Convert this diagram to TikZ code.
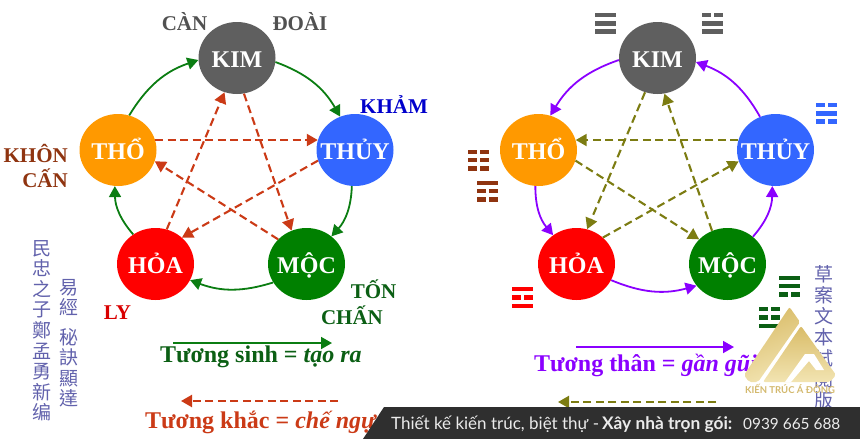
\documentclass[tikz,border=0pt]{standalone}
\usepackage{fontspec}
\setmainfont{Liberation Serif}
\newfontfamily\cjkf{Noto Sans CJK TC}
\newfontfamily\barf{Lato}
\usetikzlibrary{shapes.geometric,arrows.meta,calc}
\definecolor{cgreen}{HTML}{0B7D12}
\definecolor{dgreen}{HTML}{0B5F14}
\definecolor{cred}{HTML}{CB3A16}
\definecolor{cpurple}{HTML}{8A00FF}
\definecolor{colive}{HTML}{7C7C12}
\definecolor{kimc}{HTML}{5F5F5F}
\definecolor{thoc}{HTML}{FF9900}
\definecolor{thuyc}{HTML}{3366FF}
\definecolor{hoac}{HTML}{FF0000}
\definecolor{mocc}{HTML}{008000}
\definecolor{brownc}{HTML}{8F3410}
\definecolor{cjkc}{HTML}{6262AC}
\definecolor{barc}{HTML}{2F2F2F}
\definecolor{golda}{HTML}{D9BC68}
\definecolor{goldb}{HTML}{F2E4B2}
\definecolor{goldt}{HTML}{D3B96E}
\newcommand{\elname}[1]{\makebox[0pt]{#1}}
\tikzset{
  element/.style={ellipse,minimum width=77pt,minimum height=72pt,inner sep=0pt,text=white,text height=18pt,text depth=0pt,font=\bfseries\fontsize{24}{24}\selectfont},
  sinh/.style={-{Triangle[length=11pt,width=12pt]},draw=cgreen,line width=1.8pt},
  than/.style={-{Triangle[length=11pt,width=12pt]},draw=cpurple,line width=1.8pt},
  khac/.style={-{Triangle[length=11pt,width=12pt]},draw=cred,line width=2.1pt,dash pattern=on 8pt off 4.5pt},
  ghet/.style={-{Triangle[length=11pt,width=12pt]},draw=colive,line width=2.1pt,dash pattern=on 8pt off 4.5pt},
  trilabel/.style={font=\bfseries\fontsize{21}{21}\selectfont,inner sep=0pt},
  legend/.style={font=\bfseries\fontsize{24}{24}\selectfont,inner sep=0pt,anchor=west},
  cjkcol/.style={font=\cjkf\fontsize{19}{20.6}\selectfont,text=cjkc,align=center,inner sep=0pt,anchor=north},
}
% \trigrambar{left x}{y}{colour}{1 solid / 0 broken}
\newcommand{\trigrambar}[4]{%
  \ifnum#4=1
    \fill[#3] (#1,#2-2.2) rectangle ++(20.5,4.4);
  \else
    \fill[#3] (#1,#2-2.2) rectangle ++(8.5,4.4);
    \fill[#3] (#1+12,#2-2.2) rectangle ++(8.5,4.4);
  \fi}
\newcommand{\trigramsym}[6]{%
  \trigrambar{#1}{#2-8.3}{#3}{#4}\trigrambar{#1}{#2}{#3}{#5}\trigrambar{#1}{#2+8.3}{#3}{#6}}
\begin{document}
\begin{tikzpicture}[x=1pt,y=-1pt]
\useasboundingbox (0,0) rectangle (860,439);
\clip (0,0) rectangle (860,439);
% left wheel
\node[element,fill=kimc] (kimA) at (237,58) {\elname{KIM}};
\node[element,fill=thoc] (thoA) at (118,150) {\elname{THỔ}};
\node[element,fill=thuyc] (thuyA) at (355,150) {\elname{THỦY}};
\node[element,fill=hoac] (hoaA) at (155.5,264) {\elname{HỎA}};
\node[element,fill=mocc] (mocA) at (306.5,264) {\elname{MỘC}};
\draw[sinh] (thoA.72) to[bend left=20] (kimA.183);
\draw[sinh] (kimA.-6) to[bend left=20] (thuyA.114);
\draw[sinh] (thuyA.265) to[bend left=20] (mocA.48);
\draw[sinh] (mocA.209) to[bend left=19] (hoaA.-25);
\draw[sinh] (hoaA.127) to[bend left=20] (thoA.265);
\draw[khac] (thoA.15) -- (thuyA.165);
\draw[khac] (hoaA.72) -- (kimA.250);
\draw[khac] (kimA.281) -- (mocA.114);
\draw[khac] (mocA.139) -- (thoA.-17);
\draw[khac] (thuyA.196) -- (hoaA.45);
% right wheel
\node[element,fill=kimc] (kimB) at (657.5,58) {\elname{KIM}};
\node[element,fill=thoc] (thoB) at (538.5,150) {\elname{THỔ}};
\node[element,fill=thuyc] (thuyB) at (775.5,150) {\elname{THỦY}};
\node[element,fill=hoac] (hoaB) at (576.5,264) {\elname{HỎA}};
\node[element,fill=mocc] (mocB) at (727.5,264) {\elname{MỘC}};
\draw[than] (kimB.183) to[bend right=20] (thoB.71);
\draw[than] (thuyB.115) to[bend right=20] (kimB.-6);
\draw[than] (thoB.265) to[bend right=20] (hoaB.129);
\draw[than] (hoaB.-25) to[bend right=19] (mocB.215);
\draw[than] (mocB.47) to[bend right=20] (thuyB.265);
\draw[ghet] (thuyB.165) -- (thoB.15);
\draw[ghet] (kimB.250) -- (hoaB.73);
\draw[ghet] (mocB.115) -- (kimB.281);
\draw[ghet] (thoB.-16) -- (mocB.139);
\draw[ghet] (hoaB.45) -- (thuyB.197);
% labels
\node[trilabel,text=kimc!85!black] (can) at (184.5,22) {CÀN};
\node[trilabel,text=kimc!85!black] (doai) at (300,22) {ĐOÀI};
\node[trilabel,text=blue!80!black] (kham) at (394,105) {KHẢM};
\node[trilabel,text=brownc,anchor=east] (khon) at (68,153) {KHÔN};
\node[trilabel,text=brownc,anchor=east] (cann) at (68,178) {CẤN};
\node[trilabel,text=hoac!85!black] (ly) at (117.5,313) {LY};
\node[trilabel,text=dgreen] (ton) at (373.5,289) {TỐN};
\node[trilabel,text=dgreen] (chan) at (352,315) {CHẤN};
% trigrams
\trigramsym{595}{23.3}{kimc}{1}{1}{1}
\trigramsym{702}{23.3}{kimc}{0}{1}{1}
\trigramsym{816}{113.3}{thuyc}{0}{1}{0}
\trigramsym{468}{160}{brownc}{0}{0}{0}
\trigramsym{477}{191}{brownc}{1}{0}{0}
\trigramsym{512}{297.5}{hoac}{1}{0}{1}
\trigramsym{779}{286}{dgreen}{1}{1}{0}
\trigramsym{759}{317.5}{dgreen}{0}{0}{1}
% legends
\coordinate (l1a) at (173,343); \coordinate (l1b) at (332,343);
\draw[sinh] (l1a) -- (l1b);
\node[legend,text=dgreen] (t1) at (160,357) {Tương sinh = \textit{tạo ra}};
\coordinate (l2a) at (338,401); \coordinate (l2b) at (181,401);
\draw[khac] (l2a) -- (l2b);
\node[legend,text=cred] (t2) at (145,422) {Tương khắc = \textit{chế ngự}};
\coordinate (l3a) at (576,347); \coordinate (l3b) at (734,347);
\draw[than] (l3a) -- (l3b);
\node[legend,text=cpurple] (t3) at (534,365) {Tương thân = \textit{gần gũi}};
\coordinate (l4a) at (716,402); \coordinate (l4b) at (558,402);
\draw[ghet] (l4a) -- (l4b);
\node[legend,text=colive!60!black] (t4) at (557,422) {Tương};
% CJK columns
\node[cjkcol] (c1) at (42,240) {民\\忠\\之\\子\\鄭\\孟\\勇\\新\\编};
\node[cjkcol] (c2) at (69,279) {易\\經};
\node[cjkcol] (c3) at (69,328) {秘\\訣\\顯\\達};
\node[cjkcol,font=\cjkf\fontsize{19}{21}\selectfont] (c4) at (824,265) {草\\案\\文\\本\\試\\閱\\版};
% logo
\shade[left color=golda,right color=goldb,shading angle=20,rounded corners=2pt]
  (789.5,307) -- (800,322) -- (758,382) -- (749,382) -- (744,375) -- cycle;
\shade[top color=golda,bottom color=goldb,rounded corners=2pt]
  (801,326) -- (836,375) -- (830,382) -- (763,382) -- cycle;
\fill[white] (785,382) -- (805,354) -- (814,354) -- (824,370) -- (816,370) -- (809,361) -- (791,382) -- cycle;
\node[inner sep=0pt,text=goldt,font=\barf\bfseries\fontsize{9.5}{9.5}\selectfont] (logo) at (790,389) {KIẾN TRÚC Á ĐÔNG};
% bottom bar
\fill[barc] (363,439) -- (384,407) -- (860,407) -- (860,439) -- cycle;
\node[inner sep=0pt,anchor=west,text=white!92!black,font=\barf\fontsize{17}{17}\selectfont] (bar) at (391,424)
  {\makebox[211pt][l]{Thiết kế kiến trúc, biệt thự -}\makebox[141pt][l]{\bfseries\fontsize{17.3}{17.3}\selectfont Xây nhà trọn gói:}{\fontsize{15.4}{15.4}\selectfont 0939 665 688}};
\end{tikzpicture}
\end{document}
